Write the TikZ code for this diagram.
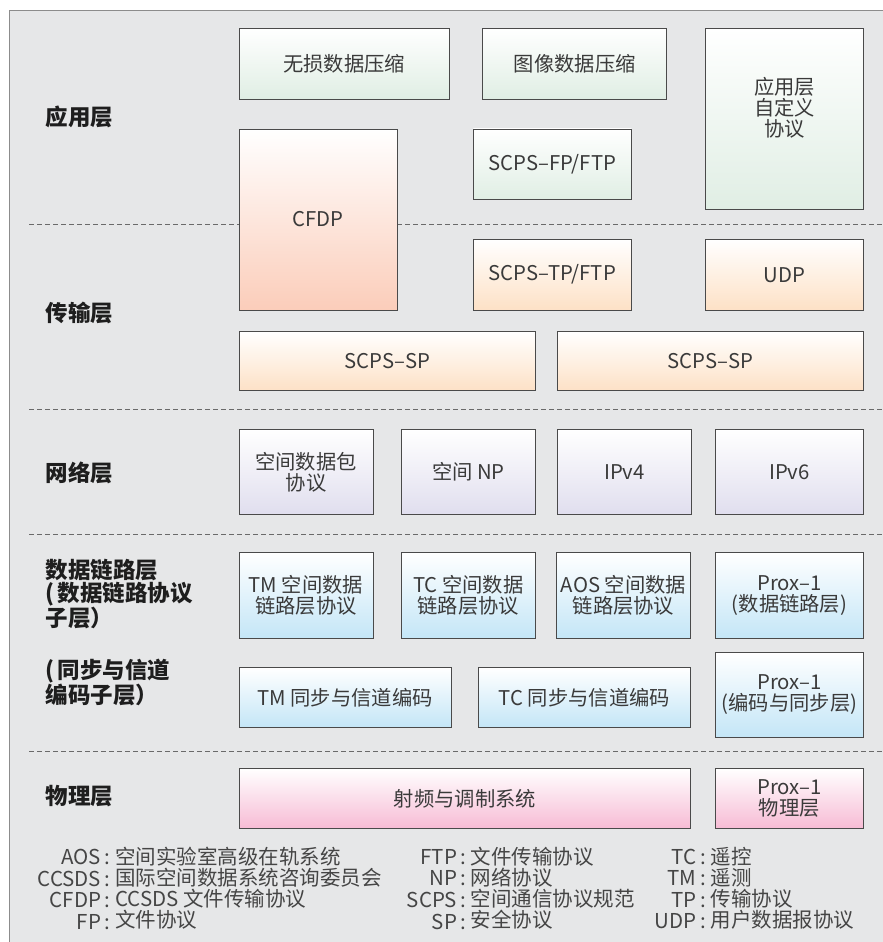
\documentclass[tikz,border=0pt]{standalone}
\usepackage{fontspec}
\setmainfont{Noto Sans CJK SC}
\definecolor{bgc}{HTML}{E6E7E8}
\definecolor{framec}{HTML}{8C8C8C}
\definecolor{boxline}{HTML}{4A4A4A}
\definecolor{boxtext}{HTML}{3A3A3A}
\definecolor{labtext}{HTML}{1E1E1E}
\definecolor{legtext}{HTML}{454545}
\definecolor{appc}{HTML}{E0EEE4}
\definecolor{cfdpc}{HTML}{FBCDBA}
\definecolor{trc}{HTML}{FDE1C6}
\definecolor{netc}{HTML}{E0DEEE}
\definecolor{dlc}{HTML}{C4E6F7}
\definecolor{phyc}{HTML}{F7BCD5}
\definecolor{dashc}{HTML}{6A6A6A}
\begin{document}
\begin{tikzpicture}[x=1pt,y=-1pt,
  box/.style={draw=boxline, line width=0.9pt, inner sep=0pt, outer sep=0pt,
    font=\fontsize{20.3}{21}\selectfont, text=boxtext, align=center},
  boxtxt/.style={inner sep=0pt, font=\fontsize{20.3}{21}\selectfont, text=boxtext, align=center},
  appbox/.style={box, top color=white, bottom color=appc},
  cfdpbox/.style={box, top color=white, bottom color=cfdpc},
  trbox/.style={box, top color=white, bottom color=trc},
  netbox/.style={box, top color=white, bottom color=netc},
  dlbox/.style={box, top color=white, bottom color=dlc},
  phybox/.style={box, top color=white, bottom color=phyc},
  lab/.style={anchor=west, inner sep=0pt, font=\fontsize{22.5}{22.5}\selectfont\bfseries, text=labtext, align=left},
  sep/.style={draw=dashc, line width=1pt, dash pattern=on 5pt off 3pt},
  legabbr/.style={anchor=base east, inner sep=0pt, font=\fontsize{20.5}{21}\selectfont, text=legtext},
  legdesc/.style={anchor=base west, inner sep=0pt, font=\fontsize{20.5}{21}\selectfont, text=legtext}
]
\useasboundingbox (0,0) rectangle (883,942);
% background frame
\fill[bgc] (9,10) rectangle (883,942);
\draw[framec, line width=1.5pt] (9.5,942) -- (9.5,10.5) -- (883,10.5);

% layer separators
\coordinate (s1a) at (29,224); \coordinate (s1b) at (883,224);
\coordinate (s2a) at (29,409); \coordinate (s2b) at (883,409);
\coordinate (s3a) at (29,534); \coordinate (s3b) at (883,534);
\coordinate (s4a) at (29,751); \coordinate (s4b) at (883,751);
\draw[sep] (s1a) -- (s1b);
\draw[sep] (s2a) -- (s2b);
\draw[sep] (s3a) -- (s3b);
\draw[sep] (s4a) -- (s4b);

% layer labels
\node[lab] (lapp) at (45.5,117) {应用层};
\node[lab] (ltr) at (45.5,313) {传输层};
\node[lab] (lnet) at (45.5,473) {网络层};
\node[lab] (ldl) at (45.5,594) {数据链路层\\(\kern3pt数据链路协议\\子层）};
\node[lab] (lsync) at (45.5,682) {(\kern3pt同步与信道\\编码子层）};
\node[lab] (lphy) at (45.5,796) {物理层};

% application layer
\node[appbox, minimum width=210pt, minimum height=70.5pt] (lossless) at (344,63.75) {无损数据压缩};
\node[appbox, minimum width=184pt, minimum height=70.5pt] (image) at (574.7,63.75) {图像数据压缩};
\node[appbox, minimum width=157.6pt, minimum height=181.2pt] (custom) at (784.5,119.1) {};
\node[boxtxt] (customtxt) at (784.5,108) {应用层\\自定义\\协议};
\node[cfdpbox, minimum width=158pt, minimum height=181pt] (cfdp) at (318,219.5) {CFDP};
\node[appbox, minimum width=158pt, minimum height=70.7pt] (scpsfp) at (552.3,164.3) {SCPS–FP/FTP};

% transport layer
\node[trbox, minimum width=158pt, minimum height=70.7pt] (scpstp) at (552.3,274.7) {SCPS–TP/FTP};
\node[trbox, minimum width=157.6pt, minimum height=70.7pt] (udp) at (784.5,274.7) {UDP};
\node[trbox, minimum width=296.7pt, minimum height=59pt] (spl) at (387.35,361.2) {SCPS–SP};
\node[trbox, minimum width=306pt, minimum height=59pt] (spr) at (710.3,361.2) {SCPS–SP};

% network layer
\node[netbox, minimum width=134pt, minimum height=85.4pt] (spp) at (306,472) {空间数据包\\协议};
\node[netbox, minimum width=134.7pt, minimum height=85.4pt] (np) at (468.35,472) {空间 NP};
\node[netbox, minimum width=134.4pt, minimum height=85.4pt] (ipv4) at (624.5,472) {IPv4};
\node[netbox, minimum width=147.6pt, minimum height=85.4pt] (ipv6) at (789.5,472) {IPv6};

% data link layer
\node[dlbox, minimum width=134pt, minimum height=85.3pt] (tmdl) at (306,595.35) {TM 空间数据\\链路层协议};
\node[dlbox, minimum width=134.7pt, minimum height=85.3pt] (tcdl) at (468.35,595.35) {TC 空间数据\\链路层协议};
\node[dlbox, minimum width=134.4pt, minimum height=85.3pt] (aosdl) at (623.5,595.35) {AOS 空间数据\\链路层协议};
\node[dlbox, minimum width=147.6pt, minimum height=85.3pt] (proxdl) at (789.5,595.35) {Prox–1\\(数据链路层)};
\node[dlbox, minimum width=212.3pt, minimum height=59.3pt] (tmsync) at (345.15,697.35) {TM 同步与信道编码};
\node[dlbox, minimum width=212.4pt, minimum height=59.3pt] (tcsync) at (584.5,697.35) {TC 同步与信道编码};
\node[dlbox, minimum width=147.6pt, minimum height=85pt] (proxsync) at (789.5,694.8) {Prox–1\\(编码与同步层)};

% physical layer
\node[phybox, minimum width=451.7pt, minimum height=59.3pt] (rf) at (464.85,798.35) {射频与调制系统};
\node[phybox, minimum width=147.3pt, minimum height=59.3pt] (proxphy) at (789.35,798.35) {Prox–1\\物理层};

% legend
\node[legabbr] (la1) at (110.5,864.5) {\begin{tabular}[t]{@{}r@{}}
AOS\kern3.5pt:\\ CCSDS\kern3.5pt:\\ CFDP\kern3.5pt:\\ FP\kern3.5pt:
\end{tabular}};
\node[legdesc] (ld1) at (115,864.5) {\begin{tabular}[t]{@{}l@{}}
\smash{空间实验室高级在轨系统}\\
\smash{国际空间数据系统咨询委员会}\\
\smash{CCSDS 文件传输协议}\\
\smash{文件协议}
\end{tabular}};
\node[legabbr] (la2) at (466.5,864.5) {\begin{tabular}[t]{@{}r@{}}
FTP\kern3.5pt:\\ NP\kern3.5pt:\\ SCPS\kern3.5pt:\\ SP\kern3.5pt:
\end{tabular}};
\node[legdesc] (ld2) at (470.5,864.5) {\begin{tabular}[t]{@{}l@{}}
\smash{文件传输协议}\\
\smash{网络协议}\\
\smash{空间通信协议规范}\\
\smash{安全协议}
\end{tabular}};
\node[legabbr] (la3) at (706,864.5) {\begin{tabular}[t]{@{}r@{}}
TC\kern3.5pt:\\ TM\kern3.5pt:\\ TP\kern3.5pt:\\ UDP\kern3.5pt:
\end{tabular}};
\node[legdesc] (ld3) at (710.5,864.5) {\begin{tabular}[t]{@{}l@{}}
\smash{遥控}\\
\smash{遥测}\\
\smash{传输协议}\\
\smash{用户数据报协议}
\end{tabular}};
\end{tikzpicture}
\end{document}
